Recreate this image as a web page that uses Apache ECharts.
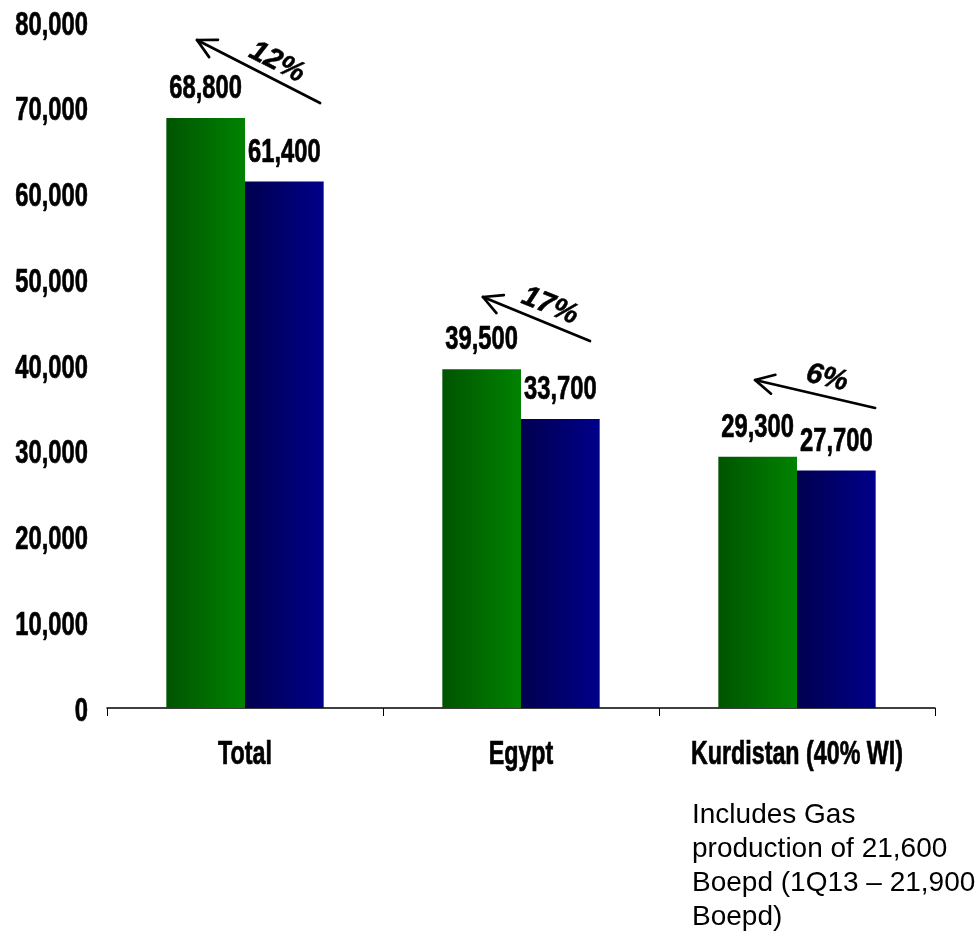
<!DOCTYPE html>
<html>
<head>
<meta charset="utf-8">
<script src="https://cdn.jsdelivr.net/npm/echarts@6/dist/echarts.min.js"></script>
<style>
  html, body { margin: 0; padding: 0; background: #fff; }
  #chart { width: 979px; height: 931px; }
</style>
</head>
<body>
<div id="chart"></div>
<script>
// Production (boepd) by region, previous vs current quarter
const categories = ['Total', 'Egypt', 'Kurdistan (40% WI)'];
const prevValues = [68800, 39500, 29300];
const currValues = [61400, 33700, 27700];
const declineLabels = ['12%', '17%', '6%'];
const yTicks = [0, 10000, 20000, 30000, 40000, 50000, 60000, 70000, 80000];
const noteLines = ['Includes Gas', 'production of 21,600', 'Boepd (1Q13 \u2013 21,900', 'Boepd)'];

const SANS = '"Liberation Sans", Arial, Helvetica, sans-serif';
// Liberation Sans Bold squeezed horizontally stands in for a narrow bold face
const NARROW_SIZE = 33;

const chart = echarts.init(document.getElementById('chart'), null, { renderer: 'canvas' });

function fmt(v) { return v.toLocaleString('en-US'); }

chart.setOption({
  animation: false,
  backgroundColor: '#fff',
  grid: { left: 107, right: 44, top: 22, bottom: 223, containLabel: false, outerBoundsMode: 'none' },
  xAxis: {
    type: 'category',
    data: categories,
    axisLine: { show: true, lineStyle: { color: '#000', width: 1.5 } },
    axisTick: { show: true, length: 8, lineStyle: { color: '#000', width: 1 } },
    axisLabel: { show: false }
  },
  yAxis: {
    type: 'value',
    min: yTicks[0],
    max: yTicks[yTicks.length - 1],
    interval: yTicks[1] - yTicks[0],
    axisLine: { show: false },
    axisTick: { show: false },
    splitLine: { show: false },
    axisLabel: { show: false }
  },
  series: [
    {
      name: 'Previous',
      type: 'bar',
      data: prevValues,
      barGap: '0%',
      barCategoryGap: '43%',
      itemStyle: {
        color: new echarts.graphic.LinearGradient(0, 0, 1, 0, [
          { offset: 0, color: '#005400' },
          { offset: 1, color: '#008300' }
        ])
      }
    },
    {
      name: 'Current',
      type: 'bar',
      data: currValues,
      itemStyle: {
        color: new echarts.graphic.LinearGradient(0, 0, 1, 0, [
          { offset: 0, color: '#000050' },
          { offset: 1, color: '#00008a' }
        ])
      }
    }
  ]
});

function narrowText(x, y, text, align, squeeze) {
  return {
    type: 'text', silent: true,
    x: x, y: y, scaleX: squeeze,
    style: {
      text: text,
      fontFamily: SANS,
      fontWeight: 'bold',
      fontSize: NARROW_SIZE,
      fill: '#000',
      stroke: '#000',
      lineWidth: 0.7,
      align: align,
      verticalAlign: 'middle'
    }
  };
}

const xPx = i => chart.convertToPixel({ xAxisIndex: 0 }, i);
const yPx = v => chart.convertToPixel({ yAxisIndex: 0 }, v);
const band = xPx(1) - xPx(0);
const gridLeft = xPx(0) - band / 2;

const graphics = [];

// Value axis tick labels
yTicks.forEach(v => {
  graphics.push(narrowText(gridLeft - 19, yPx(v) + 3.5, fmt(v), 'right', 0.72));
});

// Category labels
categories.forEach((c, i) => {
  graphics.push(narrowText(xPx(i), yPx(0) + 47, c, 'center', 0.705));
});

// Bar value labels, centred over each bar
[prevValues, currValues].forEach((vals, s) => {
  const data = chart.getModel().getSeriesByIndex(s).getData();
  vals.forEach((v, i) => {
    const lay = data.getItemLayout(i);
    graphics.push(narrowText(lay.x + lay.width / 2, yPx(v) - 29, fmt(v), 'center', 0.72));
  });
});

// Decline arrows: endpoints given as (category offset in band widths, axis value)
const arrowGeom = [
  { from: [0.272, 70550], to: [-0.174, 77900], text: [0.116, 75300], rot: -27 },
  { from: [0.250, 42800], to: [-0.138, 47930], text: [0.105, 46880], rot: -22 },
  { from: [0.283, 34990], to: [-0.152, 38250], text: [0.109, 38480], rot: -13 }
];
const toPx = (i, off, val) => [xPx(i) + off * band, yPx(val)];

arrowGeom.forEach((g, i) => {
  const p1 = toPx(i, g.from[0], g.from[1]);
  const p2 = toPx(i, g.to[0], g.to[1]);
  const ang = Math.atan2(p1[1] - p2[1], p1[0] - p2[0]);
  const head = 21, spread = 0.48;
  const h1 = [p2[0] + head * Math.cos(ang + spread), p2[1] + head * Math.sin(ang + spread)];
  const h2 = [p2[0] + head * Math.cos(ang - spread), p2[1] + head * Math.sin(ang - spread)];
  const lineStyle = { stroke: '#000', lineWidth: 2.7, lineCap: 'round', lineJoin: 'round', fill: null };
  graphics.push({ type: 'polyline', silent: true, shape: { points: [p1, p2] }, style: lineStyle });
  graphics.push({ type: 'polyline', silent: true, shape: { points: [h1, p2, h2] }, style: lineStyle });
  const t = toPx(i, g.text[0], g.text[1]);
  graphics.push({
    type: 'text', silent: true,
    x: t[0], y: t[1],
    rotation: g.rot * Math.PI / 180,
    style: {
      text: declineLabels[i],
      fontFamily: SANS,
      fontWeight: 'bold',
      fontStyle: 'italic',
      fontSize: 29,
      fill: '#000',
      stroke: '#000',
      lineWidth: 0.5,
      align: 'center',
      verticalAlign: 'middle'
    }
  });
});

// Footnote under the Kurdistan column
graphics.push({
  type: 'text', silent: true,
  left: 692, top: 798,
  style: {
    text: noteLines.join('\n'),
    fontFamily: SANS,
    fontSize: 28,
    lineHeight: 34,
    fill: '#000'
  }
});

chart.setOption({ graphic: graphics });
</script>
</body>
</html>
